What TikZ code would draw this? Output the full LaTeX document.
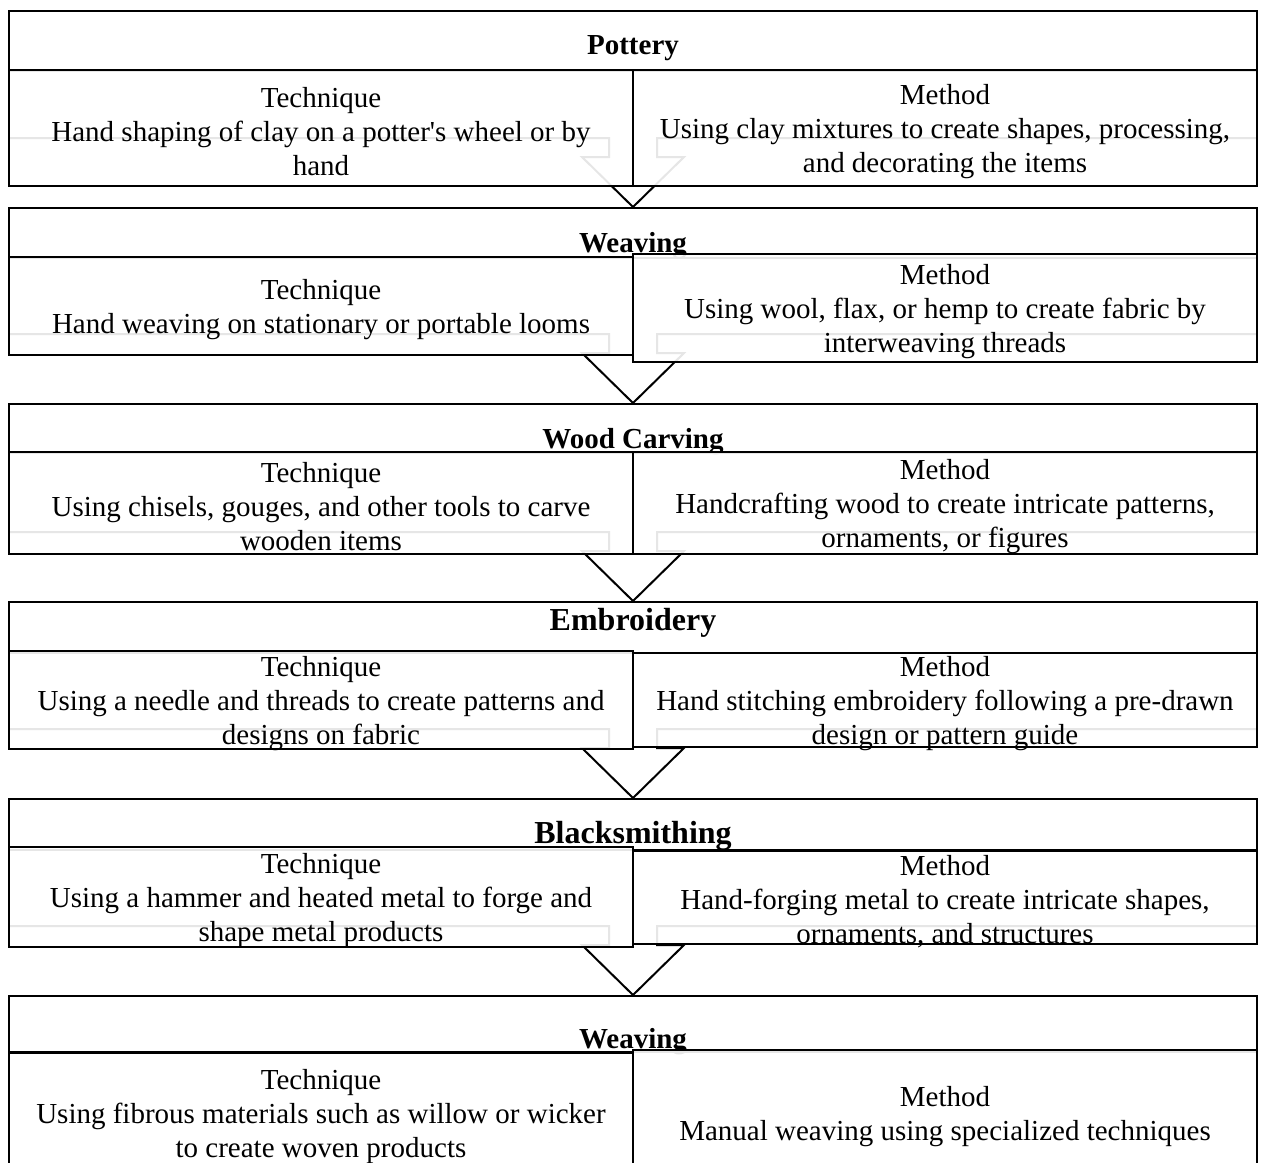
\documentclass[tikz,border=0pt]{standalone}
\usepackage{fontspec}
\setmainfont{Liberation Serif}

\begin{document}
\begin{tikzpicture}[x=1pt, y=-1pt, line width=2pt,
    hdr/.style={draw, fill=white, minimum width=1248pt, anchor=north, inner sep=0pt},
    title/.style={anchor=base, inner sep=0pt, font=\fontsize{29}{34}\selectfont\bfseries},
    cell/.style={draw, fill=white, fill opacity=0.9, inner sep=0pt, minimum width=624pt},
    txt/.style={align=center, inner sep=0pt, yshift=-4pt, font=\fontsize{29}{34}\selectfont}]
    \clip (0, 0) rectangle (1261, 1162);

    \node[hdr, minimum height=60pt] (pottery) at (633, 10) {};
    \node[hdr, minimum height=50pt] (weaving) at (633, 207) {};
    \node[hdr, minimum height=49pt] (carving) at (633, 403) {};
    \node[hdr, minimum height=51pt] (embroidery) at (633, 601) {};
    \node[hdr, minimum height=51pt] (smithing) at (633, 798) {};
    \node[hdr, minimum height=56pt] (weavingB) at (633, 995) {};

    \draw (weaving.north) -- ++(-51, -50) -- ++(27, 0) -- ++(0, -19) -- ++(-600, 0);
    \draw (weaving.north) -- ++(51, -50) -- ++(-27, 0) -- ++(0, -19) -- ++(600, 0);
    \draw (carving.north) -- ++(-51, -50) -- ++(27, 0) -- ++(0, -19) -- ++(-600, 0);
    \draw (carving.north) -- ++(51, -50) -- ++(-27, 0) -- ++(0, -19) -- ++(600, 0);
    \draw (embroidery.north) -- ++(-51, -50) -- ++(27, 0) -- ++(0, -19) -- ++(-600, 0);
    \draw (embroidery.north) -- ++(51, -50) -- ++(-27, 0) -- ++(0, -19) -- ++(600, 0);
    \draw (smithing.north) -- ++(-51, -50) -- ++(27, 0) -- ++(0, -19) -- ++(-600, 0);
    \draw (smithing.north) -- ++(51, -50) -- ++(-27, 0) -- ++(0, -19) -- ++(600, 0);
    \draw (weavingB.north) -- ++(-51, -50) -- ++(27, 0) -- ++(0, -19) -- ++(-600, 0);
    \draw (weavingB.north) -- ++(51, -50) -- ++(-27, 0) -- ++(0, -19) -- ++(600, 0);

    \node[title] (potteryL) at (633, 54) {Pottery};
    \node[title] (weavingL) at (633, 252) {Weaving};
    \node[title] (carvingL) at (633, 448) {Wood Carving};
    \node[title, font=\fontsize{32}{36}\selectfont\bfseries] (embroideryL) at (633, 630) {Embroidery};
    \node[title, font=\fontsize{32}{36}\selectfont\bfseries] (smithingL) at (633, 843) {Blacksmithing};
    \node[title] (weavingBL) at (633, 1048) {Weaving};

    \node[cell, minimum height=116pt] (potteryT) at (321, 128) {};
    \node[txt] (potteryTx) at (potteryT)
        {Technique\\Hand shaping of clay on a potter\textquotesingle s wheel or by\\hand};
    \node[cell, minimum height=116pt] (potteryM) at (945, 128) {};
    \node[txt] (potteryMx) at (potteryM)
        {Method\\Using clay mixtures to create shapes, processing,\\and decorating the items};

    \node[cell, minimum height=98pt] (weavingT) at (321, 306) {};
    \node[txt] (weavingTx) at (weavingT)
        {Technique\\Hand weaving on stationary or portable looms};
    \node[cell, minimum height=108pt] (weavingM) at (945, 308) {};
    \node[txt] (weavingMx) at (weavingM)
        {Method\\Using wool, flax, or hemp to create fabric by\\interweaving threads};

    \node[cell, minimum height=102pt] (carvingT) at (321, 503) {};
    \node[txt] (carvingTx) at (carvingT)
        {Technique\\Using chisels, gouges, and other tools to carve\\wooden items};
    \node[cell, minimum height=102pt] (carvingM) at (945, 503) {};
    \node[txt] (carvingMx) at (carvingM)
        {Method\\Handcrafting wood to create intricate patterns,\\ornaments, or figures};

    \node[cell, minimum height=98pt] (embroideryT) at (321, 700) {};
    \node[txt] (embroideryTx) at (embroideryT)
        {Technique\\Using a needle and threads to create patterns and\\designs on fabric};
    \node[cell, minimum height=94pt] (embroideryM) at (945, 700) {};
    \node[txt] (embroideryMx) at (embroideryM)
        {Method\\Hand stitching embroidery following a pre-drawn\\design or pattern guide};

    \node[cell, minimum height=100pt] (smithingT) at (321, 897) {};
    \node[txt] (smithingTx) at (smithingT)
        {Technique\\Using a hammer and heated metal to forge and\\shape metal products};
    \node[cell, minimum height=93pt] (smithingM) at (945, 897.5) {};
    \node[txt] (smithingMx) at (smithingM)
        {Method\\Hand-forging metal to create intricate shapes,\\ornaments, and structures};

    \node[cell, minimum height=119pt] (weavingBT) at (321, 1112.5) {};
    \node[txt] (weavingBTx) at (weavingBT)
        {Technique\\Using fibrous materials such as willow or wicker\\to create woven products};
    \node[cell, minimum height=125pt] (weavingBM) at (945, 1112.5) {};
    \node[txt] (weavingBMx) at (weavingBM)
        {Method\\Manual weaving using specialized techniques};
\end{tikzpicture}
\end{document}
